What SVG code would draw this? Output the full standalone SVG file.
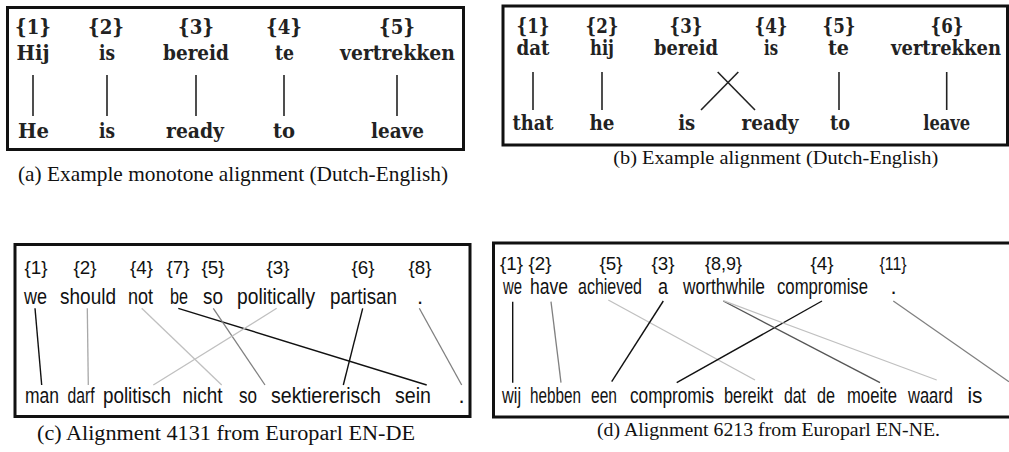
<svg xmlns="http://www.w3.org/2000/svg" width="1009" height="452" viewBox="0 0 1009 452">
  <style>
    .box { fill: none; stroke: #111; stroke-width: 3; }
    .bf { font-family: "DejaVu Serif", "Liberation Serif", serif; font-weight: bold; font-size: 20px; fill: #222; text-anchor: middle; }
    .cap { font-family: "Liberation Serif", "Times New Roman", serif; fill: #111; text-anchor: middle; }
    .sw { font-family: "Liberation Sans", Arial, sans-serif; font-size: 22px; fill: #111; text-anchor: middle; }
    .sl { font-family: "Liberation Sans", Arial, sans-serif; font-size: 19px; fill: #111; text-anchor: middle; }
    .ka { stroke: #222; stroke-width: 1.6; fill: none; }
    .k { stroke: #111; stroke-width: 1.4; }
    .g1 { stroke: #555; stroke-width: 1.4; }
    .g2 { stroke: #808080; stroke-width: 1.3; }
    .g3 { stroke: #a8a8a8; stroke-width: 1.3; }
    .g4 { stroke: #c0c0c0; stroke-width: 1.3; }
  </style>

  <!-- (a) monotone alignment -->
  <g id="panel-a">
    <rect class="box" x="7.5" y="7.5" width="456" height="142" stroke-width="2.6"/>
    <g id="a-s1"><text class="bf" x="33" y="34" textLength="36" lengthAdjust="spacingAndGlyphs">{1}</text><text class="bf" x="33" y="59.5" textLength="33" lengthAdjust="spacingAndGlyphs">Hij</text></g>
    <g id="a-s2"><text class="bf" x="106" y="34" textLength="36" lengthAdjust="spacingAndGlyphs">{2}</text><text class="bf" x="107" y="59.5" textLength="16" lengthAdjust="spacingAndGlyphs">is</text></g>
    <g id="a-s3"><text class="bf" x="196" y="34" textLength="36" lengthAdjust="spacingAndGlyphs">{3}</text><text class="bf" x="196" y="59.5" textLength="66" lengthAdjust="spacingAndGlyphs">bereid</text></g>
    <g id="a-s4"><text class="bf" x="284" y="34" textLength="36" lengthAdjust="spacingAndGlyphs">{4}</text><text class="bf" x="284.5" y="59.5" textLength="19" lengthAdjust="spacingAndGlyphs">te</text></g>
    <g id="a-s5"><text class="bf" x="397" y="34" textLength="36" lengthAdjust="spacingAndGlyphs">{5}</text><text class="bf" x="397.5" y="59.5" textLength="115" lengthAdjust="spacingAndGlyphs">vertrekken</text></g>
    <g id="a-t1"><text class="bf" x="33.5" y="138" textLength="31" lengthAdjust="spacingAndGlyphs">He</text></g>
    <g id="a-t2"><text class="bf" x="107" y="138" textLength="16" lengthAdjust="spacingAndGlyphs">is</text></g>
    <g id="a-t3"><text class="bf" x="195" y="138" textLength="58" lengthAdjust="spacingAndGlyphs">ready</text></g>
    <g id="a-t4"><text class="bf" x="284" y="138" textLength="22" lengthAdjust="spacingAndGlyphs">to</text></g>
    <g id="a-t5"><text class="bf" x="397.5" y="138" textLength="53" lengthAdjust="spacingAndGlyphs">leave</text></g>
    <g id="a-links" class="ka">
      <line x1="33" y1="75" x2="33" y2="116"/>
      <line x1="107" y1="75" x2="107" y2="116"/>
      <line x1="196" y1="75" x2="196" y2="116"/>
      <line x1="284" y1="75" x2="284" y2="116"/>
      <line x1="397" y1="75" x2="397" y2="116"/>
    </g>
    <text class="cap" x="233" y="181" font-size="21" textLength="430" lengthAdjust="spacingAndGlyphs">(a) Example monotone alignment (Dutch-English)</text>
  </g>

  <!-- (b) alignment with a crossing -->
  <g id="panel-b">
    <rect class="box" x="503" y="6" width="504.5" height="139"/>
    <g id="b-s1"><text class="bf" x="533" y="32.5" textLength="33" lengthAdjust="spacingAndGlyphs">{1}</text><text class="bf" x="533" y="55" textLength="33" lengthAdjust="spacingAndGlyphs">dat</text></g>
    <g id="b-s2"><text class="bf" x="602" y="32.5" textLength="33" lengthAdjust="spacingAndGlyphs">{2}</text><text class="bf" x="602" y="55" textLength="24" lengthAdjust="spacingAndGlyphs">hij</text></g>
    <g id="b-s3"><text class="bf" x="686" y="32.5" textLength="33" lengthAdjust="spacingAndGlyphs">{3}</text><text class="bf" x="686" y="55" textLength="64" lengthAdjust="spacingAndGlyphs">bereid</text></g>
    <g id="b-s4"><text class="bf" x="771" y="32.5" textLength="33" lengthAdjust="spacingAndGlyphs">{4}</text><text class="bf" x="771" y="55" textLength="14" lengthAdjust="spacingAndGlyphs">is</text></g>
    <g id="b-s5"><text class="bf" x="839" y="32.5" textLength="33" lengthAdjust="spacingAndGlyphs">{5}</text><text class="bf" x="838.5" y="55" textLength="21" lengthAdjust="spacingAndGlyphs">te</text></g>
    <g id="b-s6"><text class="bf" x="947" y="32.5" textLength="33" lengthAdjust="spacingAndGlyphs">{6}</text><text class="bf" x="946" y="55" textLength="110" lengthAdjust="spacingAndGlyphs">vertrekken</text></g>
    <g id="b-t1"><text class="bf" x="533" y="130" textLength="41" lengthAdjust="spacingAndGlyphs">that</text></g>
    <g id="b-t2"><text class="bf" x="602" y="130" textLength="25" lengthAdjust="spacingAndGlyphs">he</text></g>
    <g id="b-t3"><text class="bf" x="686.7" y="130" textLength="17" lengthAdjust="spacingAndGlyphs">is</text></g>
    <g id="b-t4"><text class="bf" x="770" y="130" textLength="57" lengthAdjust="spacingAndGlyphs">ready</text></g>
    <g id="b-t5"><text class="bf" x="840" y="130" textLength="20" lengthAdjust="spacingAndGlyphs">to</text></g>
    <g id="b-t6"><text class="bf" x="946.7" y="130" textLength="47" lengthAdjust="spacingAndGlyphs">leave</text></g>
    <g id="b-links" class="ka">
      <line x1="533" y1="72" x2="533" y2="110"/>
      <line x1="602" y1="72" x2="602" y2="110"/>
      <line x1="717.7" y1="72" x2="755" y2="110"/>
      <line x1="738.3" y1="72" x2="701" y2="110"/>
      <line x1="839" y1="72" x2="839" y2="110"/>
      <line x1="946.7" y1="72" x2="946.7" y2="110"/>
    </g>
    <text class="cap" x="775.7" y="164" font-size="19.5" textLength="325" lengthAdjust="spacingAndGlyphs">(b) Example alignment (Dutch-English)</text>
  </g>

  <!-- (c) EN-DE sentence pair -->
  <g id="panel-c">
    <rect class="box" x="15" y="244.5" width="455" height="172"/>
    <g id="c-s1"><text class="sl" x="36" y="274" textLength="23" lengthAdjust="spacingAndGlyphs">{1}</text><text class="sw" x="35.5" y="303.5" textLength="23" lengthAdjust="spacingAndGlyphs">we</text></g>
    <g id="c-s2"><text class="sl" x="85" y="274" textLength="23" lengthAdjust="spacingAndGlyphs">{2}</text><text class="sw" x="88" y="303.5" textLength="56" lengthAdjust="spacingAndGlyphs">should</text></g>
    <g id="c-s3"><text class="sl" x="141.5" y="274" textLength="23" lengthAdjust="spacingAndGlyphs">{4}</text><text class="sw" x="140.5" y="303.5" textLength="25" lengthAdjust="spacingAndGlyphs">not</text></g>
    <g id="c-s4"><text class="sl" x="178" y="274" textLength="23" lengthAdjust="spacingAndGlyphs">{7}</text><text class="sw" x="179" y="303.5" textLength="18" lengthAdjust="spacingAndGlyphs">be</text></g>
    <g id="c-s5"><text class="sl" x="213" y="274" textLength="23" lengthAdjust="spacingAndGlyphs">{5}</text><text class="sw" x="213" y="303.5" textLength="20" lengthAdjust="spacingAndGlyphs">so</text></g>
    <g id="c-s6"><text class="sl" x="278" y="274" textLength="23" lengthAdjust="spacingAndGlyphs">{3}</text><text class="sw" x="276" y="303.5" textLength="78" lengthAdjust="spacingAndGlyphs">politically</text></g>
    <g id="c-s7"><text class="sl" x="363" y="274" textLength="23" lengthAdjust="spacingAndGlyphs">{6}</text><text class="sw" x="363.5" y="303.5" textLength="67" lengthAdjust="spacingAndGlyphs">partisan</text></g>
    <g id="c-s8"><text class="sl" x="420" y="274" textLength="23" lengthAdjust="spacingAndGlyphs">{8}</text><text class="sw" x="420" y="303.5">.</text></g>
    <g id="c-t1"><text class="sw" x="42" y="403" textLength="34" lengthAdjust="spacingAndGlyphs">man</text></g>
    <g id="c-t2"><text class="sw" x="81" y="403" textLength="27" lengthAdjust="spacingAndGlyphs">darf</text></g>
    <g id="c-t3"><text class="sw" x="137" y="403" textLength="68" lengthAdjust="spacingAndGlyphs">politisch</text></g>
    <g id="c-t4"><text class="sw" x="202.5" y="403" textLength="40" lengthAdjust="spacingAndGlyphs">nicht</text></g>
    <g id="c-t5"><text class="sw" x="248" y="403" textLength="18" lengthAdjust="spacingAndGlyphs">so</text></g>
    <g id="c-t6"><text class="sw" x="326" y="403" textLength="110" lengthAdjust="spacingAndGlyphs">sektiererisch</text></g>
    <g id="c-t7"><text class="sw" x="413" y="403" textLength="36" lengthAdjust="spacingAndGlyphs">sein</text></g>
    <g id="c-t8"><text class="sw" x="461.5" y="403">.</text></g>
    <g id="c-links">
      <line class="k" x1="35" y1="308.3" x2="41.7" y2="385"/>
      <line class="g3" x1="87.3" y1="308.3" x2="88.3" y2="385"/>
      <line class="g4" x1="141.7" y1="308.3" x2="221.7" y2="385"/>
      <line class="k" x1="178.3" y1="308.3" x2="426.7" y2="385"/>
      <line class="g2" x1="213.3" y1="308.3" x2="265" y2="385"/>
      <line class="g4" x1="276.7" y1="308.3" x2="153.3" y2="385"/>
      <line class="k" x1="362.7" y1="308.3" x2="343.3" y2="385"/>
      <line class="g2" x1="419.3" y1="308.3" x2="461.7" y2="385"/>
    </g>
    <text class="cap" x="226" y="440" font-size="20" textLength="378" lengthAdjust="spacingAndGlyphs">(c) Alignment 4131 from Europarl EN-DE</text>
  </g>

  <!-- (d) EN-NE sentence pair -->
  <g id="panel-d">
    <rect class="box" x="493.5" y="243" width="530" height="174"/>
    <g id="d-s1"><text class="sl" x="511.5" y="270" textLength="23" lengthAdjust="spacingAndGlyphs">{1}</text><text class="sw" x="512.5" y="294" textLength="19" lengthAdjust="spacingAndGlyphs">we</text></g>
    <g id="d-s2"><text class="sl" x="540" y="270" textLength="23" lengthAdjust="spacingAndGlyphs">{2}</text><text class="sw" x="549" y="294" textLength="38" lengthAdjust="spacingAndGlyphs">have</text></g>
    <g id="d-s3"><text class="sl" x="611" y="270" textLength="23" lengthAdjust="spacingAndGlyphs">{5}</text><text class="sw" x="610" y="294" textLength="64" lengthAdjust="spacingAndGlyphs">achieved</text></g>
    <g id="d-s4"><text class="sl" x="663" y="270" textLength="23" lengthAdjust="spacingAndGlyphs">{3}</text><text class="sw" x="663" y="294" textLength="10" lengthAdjust="spacingAndGlyphs">a</text></g>
    <g id="d-s5"><text class="sl" x="723.5" y="270" textLength="37" lengthAdjust="spacingAndGlyphs">{8,9}</text><text class="sw" x="724" y="294" textLength="82" lengthAdjust="spacingAndGlyphs">worthwhile</text></g>
    <g id="d-s6"><text class="sl" x="822" y="270" textLength="23" lengthAdjust="spacingAndGlyphs">{4}</text><text class="sw" x="822.5" y="294" textLength="91" lengthAdjust="spacingAndGlyphs">compromise</text></g>
    <g id="d-s7"><text class="sl" x="893" y="270" textLength="27" lengthAdjust="spacingAndGlyphs">{11}</text><text class="sw" x="893.5" y="294">.</text></g>
    <g id="d-t1"><text class="sw" x="511.5" y="403" textLength="19" lengthAdjust="spacingAndGlyphs">wij</text></g>
    <g id="d-t2"><text class="sw" x="555.5" y="403" textLength="51" lengthAdjust="spacingAndGlyphs">hebben</text></g>
    <g id="d-t3"><text class="sw" x="604" y="403" textLength="26" lengthAdjust="spacingAndGlyphs">een</text></g>
    <g id="d-t4"><text class="sw" x="672" y="403" textLength="84" lengthAdjust="spacingAndGlyphs">compromis</text></g>
    <g id="d-t5"><text class="sw" x="748.5" y="403" textLength="49" lengthAdjust="spacingAndGlyphs">bereikt</text></g>
    <g id="d-t6"><text class="sw" x="795" y="403" textLength="22" lengthAdjust="spacingAndGlyphs">dat</text></g>
    <g id="d-t7"><text class="sw" x="826" y="403" textLength="18" lengthAdjust="spacingAndGlyphs">de</text></g>
    <g id="d-t8"><text class="sw" x="872" y="403" textLength="50" lengthAdjust="spacingAndGlyphs">moeite</text></g>
    <g id="d-t9"><text class="sw" x="930.5" y="403" textLength="45" lengthAdjust="spacingAndGlyphs">waard</text></g>
    <g id="d-t10"><text class="sw" x="975" y="403" textLength="15" lengthAdjust="spacingAndGlyphs">is</text></g>
    <g id="d-links">
      <line class="k" x1="512.7" y1="301.7" x2="512.7" y2="382.7"/>
      <line class="g2" x1="551" y1="301.7" x2="561" y2="382.7"/>
      <line class="g4" x1="608.3" y1="300" x2="755" y2="380"/>
      <line class="k" x1="663.3" y1="301" x2="611.7" y2="381.7"/>
      <line class="k" x1="822" y1="301" x2="676.7" y2="382.7"/>
      <line class="g1" x1="723.3" y1="301" x2="880" y2="382.7"/>
      <line class="g4" x1="723.3" y1="300.7" x2="936.7" y2="380"/>
      <line class="g2" x1="893.3" y1="301" x2="1009" y2="381.7"/>
    </g>
    <text class="cap" x="768.5" y="436" font-size="19.5" textLength="343" lengthAdjust="spacingAndGlyphs">(d) Alignment 6213 from Europarl EN-NE.</text>
  </g>
</svg>
